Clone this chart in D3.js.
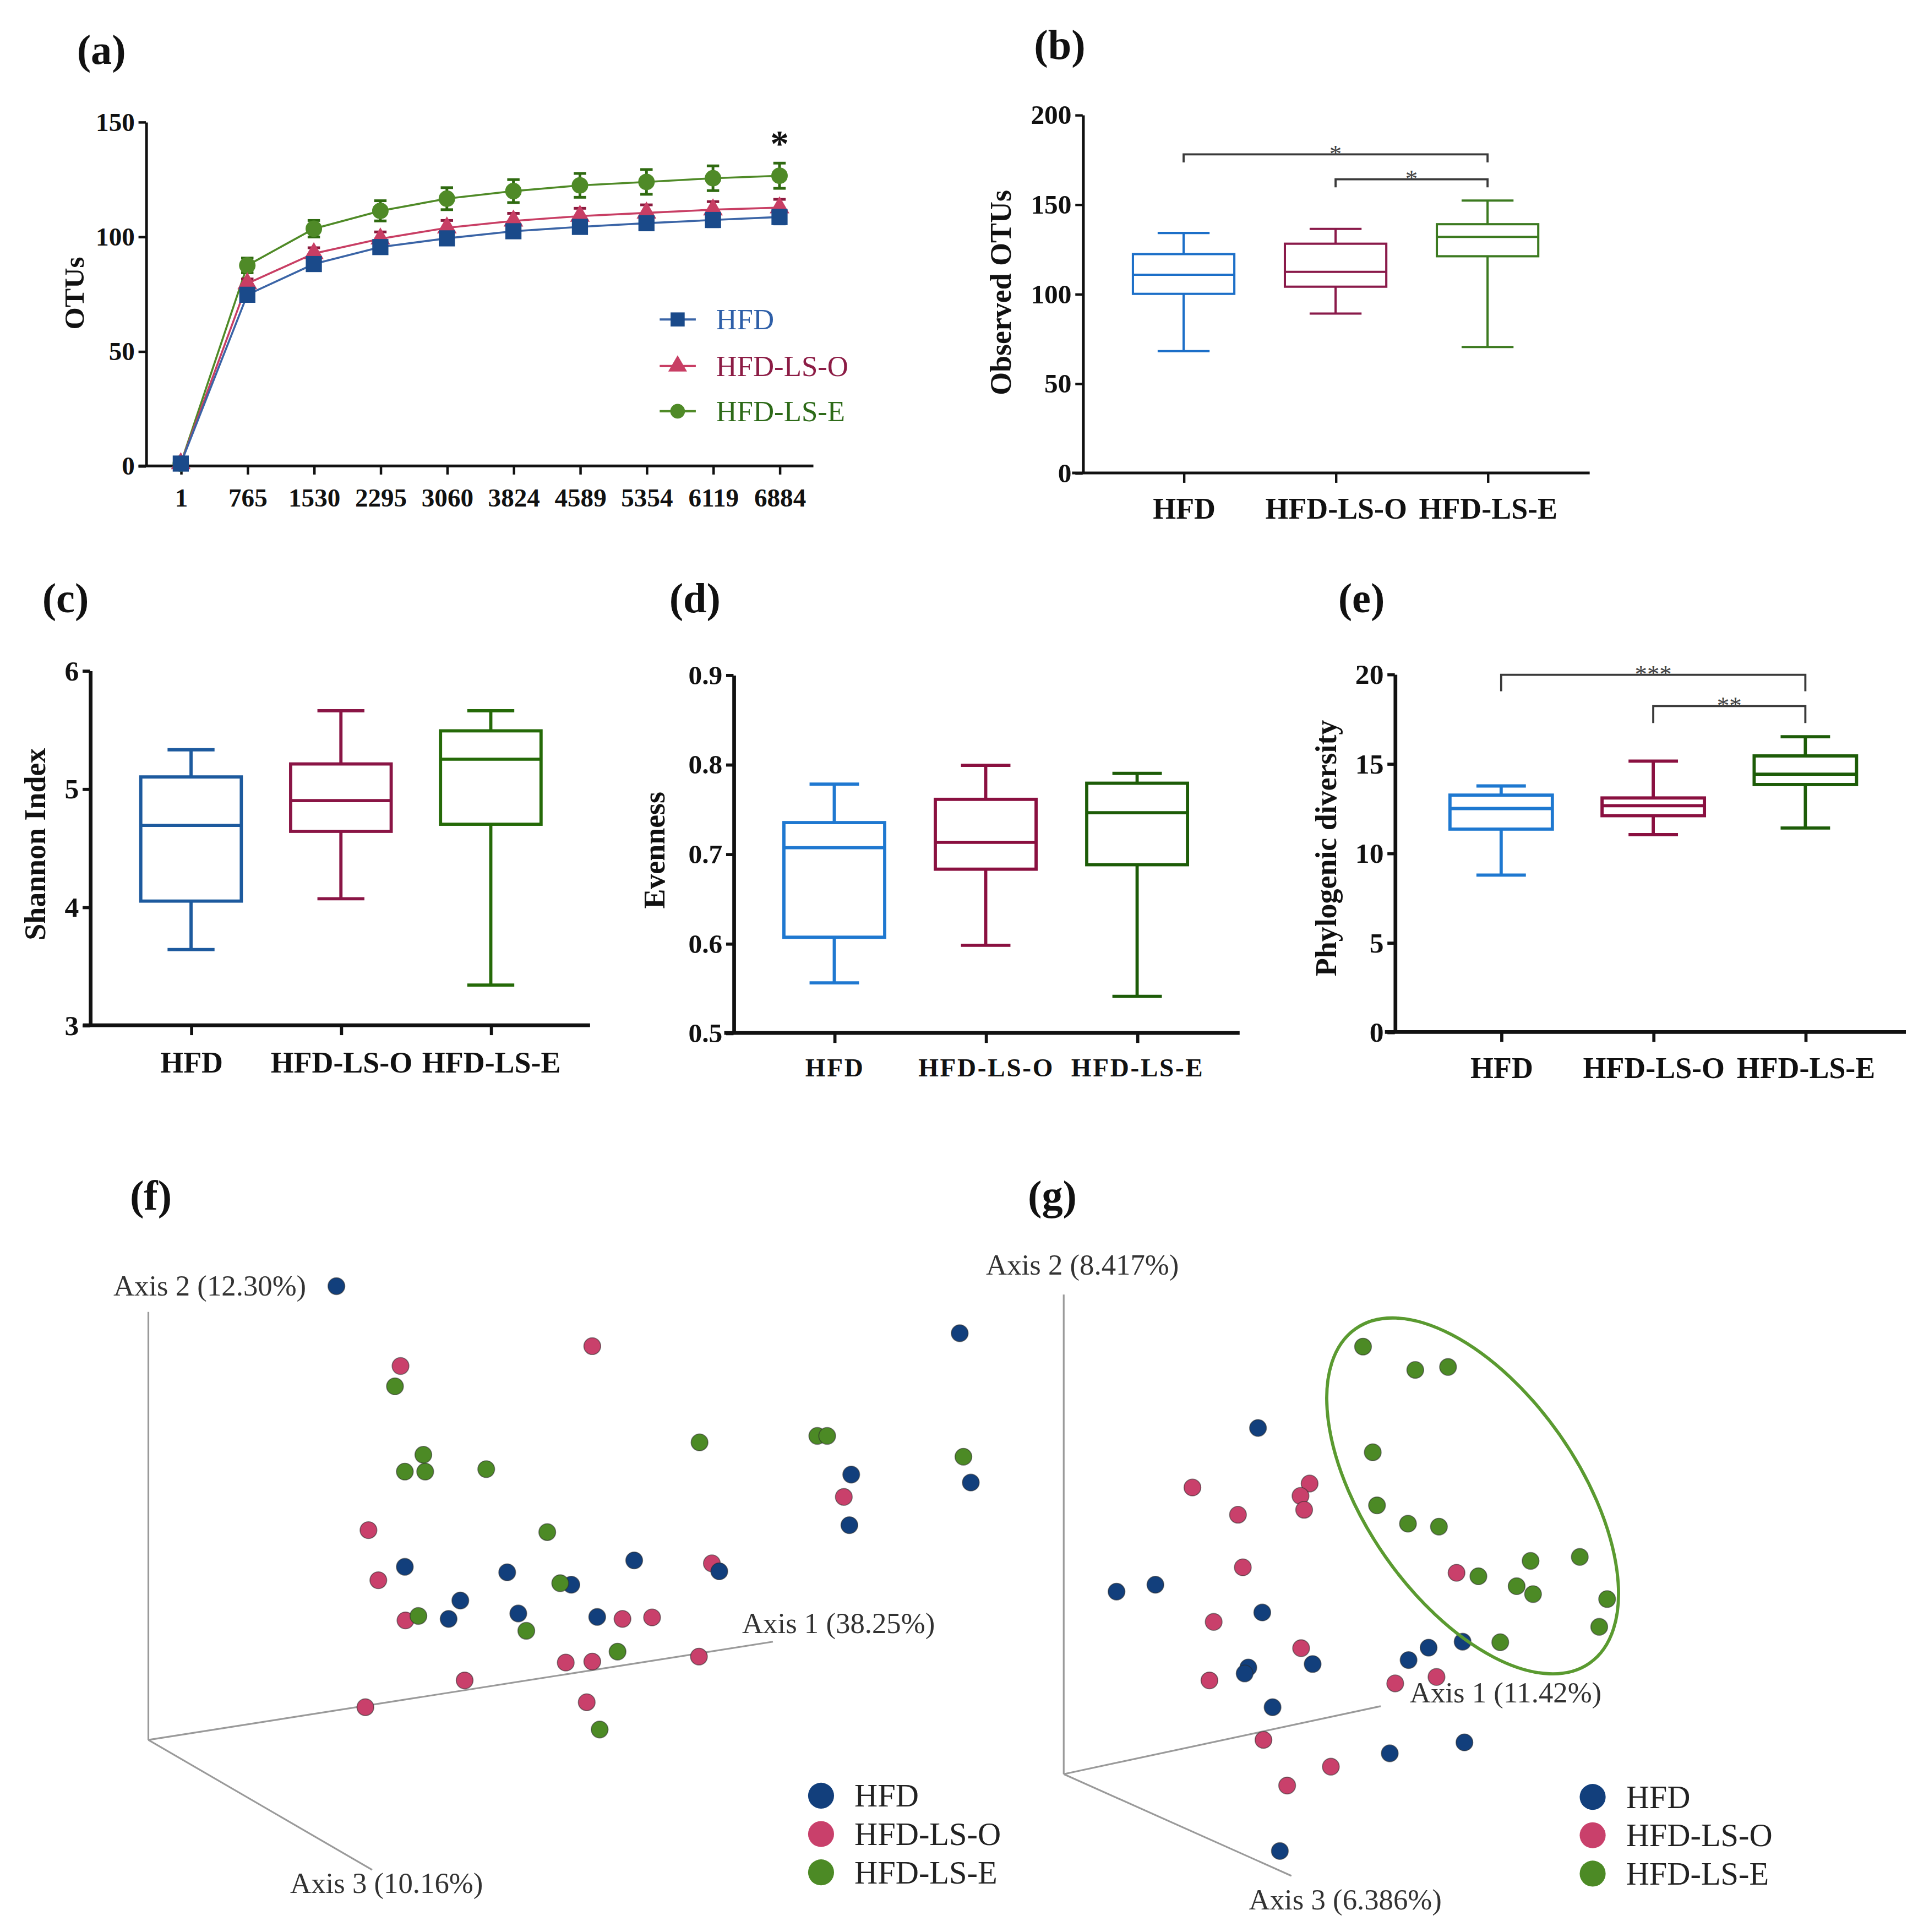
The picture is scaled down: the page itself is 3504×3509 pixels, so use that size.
<!DOCTYPE html>
<html>
<head>
<meta charset="utf-8">
<script src="https://cdn.jsdelivr.net/npm/d3@7"></script>
<style>
  body { margin: 0; background: #fff; }
  svg { display: block; }
</style>
</head>
<body>
<svg id="fig"></svg>
<script>
// ---- data ----
var groups = ["HFD", "HFD-LS-O", "HFD-LS-E"];

// (a) rarefaction curves
var depths = ["1", "765", "1530", "2295", "3060", "3824", "4589", "5354", "6119", "6884"];
var otuHFD = [1, 74.6, 88, 95.4, 99.2, 102.3, 104.2, 105.8, 107.2, 108.5];
var otuLSO = [1, 79.5, 92.6, 99, 103.8, 106.8, 108.9, 110.3, 111.7, 112.6];
var otuLSE = [1, 87.4, 103.4, 111.2, 116.5, 119.8, 122.3, 123.8, 125.4, 126.5];
var errHFD = [0, 1.5, 2, 2.3, 2.5, 2.6, 2.7, 2.8, 2.9, 3];
var errLSO = [0, 2, 2.5, 3, 3.2, 3.3, 3.4, 3.5, 3.5, 3.6];
var errLSE = [0, 3.2, 3.6, 4.4, 4.8, 5, 5.2, 5.4, 5.4, 5.5];

// box plots: [min, q1, median, q3, max] per group
var observedOTUs = [[68, 100, 110.7, 122.2, 134], [89, 104, 112.3, 128, 136.3], [70.3, 121, 131.8, 138.9, 152.1]];
var shannon = [[3.64, 4.05, 4.69, 5.10, 5.33], [4.07, 4.64, 4.90, 5.21, 5.66], [3.34, 4.70, 5.25, 5.49, 5.66]];
var evenness = [[0.556, 0.607, 0.707, 0.735, 0.778], [0.598, 0.683, 0.713, 0.761, 0.799], [0.541, 0.688, 0.746, 0.779, 0.790]];
var phylo = [[8.77, 11.34, 12.49, 13.24, 13.75], [11.03, 12.09, 12.65, 13.08, 15.14], [11.40, 13.83, 14.41, 15.43, 16.5]];

var otuSig = [[0, 2, 177.9, 4.5, "*"], [1, 2, 164, 4.5, "*"]];
var pdSig = [[0, 2, 19.96, 0.92, "***"], [1, 2, 18.22, 0.95, "**"]];

// (f),(g) PCoA, projected 2D positions of the 3D plots
var fHFD = [[457,263],[1468,358],[1292,643],[1486,659],[1289,745],[568,829],[734,840],[940,816],[1078,838],[838,865],[658,897],[752,923],[639,934],[880,930]];
var fLSO = [[561,424],[872,384],[1280,688],[509,755],[525,856],[1066,822],[569,937],[921,934],[969,931],[829,1022],[872,1020],[1045,1010],[665,1058],[504,1112],[863,1102]];
var fLSE = [[552,465],[598,603],[568,637],[601,637],[700,632],[1046,578],[1237,565],[1253,565],[1474,607],[799,759],[820,862],[590,928],[765,958],[913,1000],[884,1157]];
var gHFD = [[460,547],[227,877],[291,863],[467,919],[550,1023],[444,1030],[438,1042],[484,1110],[708,1015],[741,990],[797,978],[677,1203],[800,1181],[496,1400]];
var gLSO = [[352,667],[545,659],[530,684],[536,712],[427,722],[435,828],[787,839],[387,938],[531,991],[380,1056],[686,1062],[754,1049],[469,1176],[580,1230],[508,1268]];
var gLSE = [[633,383],[719,430],[773,424],[649,596],[656,703],[707,740],[758,746],[909,815],[990,807],[823,846],[886,866],[913,882],[1035,892],[1022,948],[859,979]];

var fAxes = { o: [152, 1178], a1: [1165, 980], a2: [152, 315], a3: [515, 1440] };
var gAxes = { o: [140, 1245], a1: [662, 1108], a2: [140, 278], a3: [515, 1450] };
var fLabels = [["Axis 2 (12.30%)", 408, 282, "end"], ["Axis 1 (38.25%)", 1115, 962, "start"], ["Axis 3 (10.16%)", 382, 1487, "start"]];
var gLabels = [["Axis 2 (8.417%)", 12, 238, "start"], ["Axis 1 (11.42%)", 710, 1100, "start"], ["Axis 3 (6.386%)", 445, 1518, "start"]];

var serif = "'Liberation Serif', 'Times New Roman', serif";

var svg = d3.select("#fig")
    .attr("width", 3504)
    .attr("height", 3509)
    .attr("viewBox", "0 0 1560 1562.2");

svg.append("rect").attr("width", 1560).attr("height", 1563).attr("fill", "#fff");

function panelTitle(t, x, y) {
    svg.append("text").text(t)
        .attr("x", x).attr("y", y + 9)
        .attr("text-anchor", "middle")
        .attr("font-family", serif).attr("font-weight", "bold")
        .attr("font-size", 34).attr("fill", "#111");
}

function yLabel(t, x, cy, size) {
    svg.append("text").text(t)
        .attr("transform", "translate(" + x + "," + cy + ") rotate(-90)")
        .attr("text-anchor", "middle").attr("dy", "0.35em")
        .attr("font-family", serif).attr("font-weight", "bold")
        .attr("font-size", size).attr("fill", "#111");
}

// ---- (a) rarefaction ----
(function () {
    var x = d3.scalePoint().domain(depths).range([146.2, 630.4]);
    var y = d3.scaleLinear().domain([0, 150]).range([376.7, 98.5]);
    var g = svg.append("g");

    var ya = g.append("g").attr("transform", "translate(118,0)")
        .call(d3.axisLeft(y).tickValues([0, 50, 100, 150]).tickSize(6).tickSizeOuter(0).tickPadding(3));
    ya.select(".domain").attr("stroke-width", 2.2).attr("stroke", "#111");
    ya.selectAll(".tick line").attr("stroke-width", 2).attr("stroke", "#111");
    ya.selectAll("text").attr("font-family", serif).attr("font-weight", "bold")
        .attr("font-size", 21).attr("fill", "#111");

    g.append("line").attr("x1", 112).attr("x2", 657.8).attr("y1", y(0)).attr("y2", y(0))
        .attr("stroke", "#111").attr("stroke-width", 2.2);
    var xa = g.append("g").attr("transform", "translate(0," + y(0) + ")")
        .call(d3.axisBottom(x).tickSize(7).tickPadding(11));
    xa.select(".domain").remove();
    xa.selectAll(".tick line").attr("stroke-width", 2).attr("stroke", "#111");
    xa.selectAll("text").attr("font-family", serif).attr("font-weight", "bold")
        .attr("font-size", 21).attr("fill", "#111");

    var series = [
        { v: otuLSE, e: errLSE, line: "#4f8a27", bar: "#2f6a10", fill: "#4f8a27", sym: d3.symbolCircle, size: 140 },
        { v: otuLSO, e: errLSO, line: "#c83e64", bar: "#8b1a3e", fill: "#c83e64", sym: d3.symbolTriangle, size: 110 },
        { v: otuHFD, e: errHFD, line: "#3a64a6", bar: "#1a4a8a", fill: "#1a4a8a", sym: d3.symbolSquare, size: 170 }
    ];

    var line = d3.line().x(function (d, i) { return x(depths[i]); }).y(function (d) { return y(d); });

    series.forEach(function (s) {
        g.append("path").attr("d", line(s.v)).attr("fill", "none")
            .attr("stroke", s.line).attr("stroke-width", 1.6);
    });
    series.forEach(function (s) {
        var eb = g.append("g").attr("stroke", s.bar).attr("stroke-width", 2.2);
        s.v.forEach(function (v, i) {
            if (!s.e[i]) return;
            var cx = x(depths[i]);
            eb.append("line").attr("x1", cx).attr("x2", cx).attr("y1", y(v - s.e[i])).attr("y2", y(v + s.e[i]));
            eb.append("line").attr("x1", cx - 5).attr("x2", cx + 5).attr("y1", y(v + s.e[i])).attr("y2", y(v + s.e[i]));
            eb.append("line").attr("x1", cx - 5).attr("x2", cx + 5).attr("y1", y(v - s.e[i])).attr("y2", y(v - s.e[i]));
        });
        g.selectAll(null).data(s.v).join("path")
            .attr("d", d3.symbol().type(s.sym).size(s.size))
            .attr("transform", function (d, i) { return "translate(" + x(depths[i]) + "," + y(d) + ")"; })
            .attr("fill", s.fill);
    });

    g.append("text").text("*").attr("x", x("6884")).attr("y", 126)
        .attr("text-anchor", "middle").attr("font-family", serif).attr("font-weight", "bold")
        .attr("font-size", 30).attr("fill", "#111");

    // legend
    var leg = [
        { t: "HFD", c: "#2e5fa8", lc: "#3a64a6", f: "#1a4a8a", sym: d3.symbolSquare, size: 130, cy: 258.3 },
        { t: "HFD-LS-O", c: "#8c1c45", lc: "#c83e64", f: "#c83e64", sym: d3.symbolTriangle, size: 100, cy: 296 },
        { t: "HFD-LS-E", c: "#2d6a18", lc: "#4f8a27", f: "#4f8a27", sym: d3.symbolCircle, size: 110, cy: 332.5 }
    ];
    leg.forEach(function (l) {
        g.append("line").attr("x1", 533.5).attr("x2", 562.7).attr("y1", l.cy).attr("y2", l.cy)
            .attr("stroke", l.lc).attr("stroke-width", 1.8);
        g.append("path").attr("d", d3.symbol().type(l.sym).size(l.size)())
            .attr("transform", "translate(548," + l.cy + ")").attr("fill", l.f);
        g.append("text").text(l.t).attr("x", 579).attr("y", l.cy).attr("dy", "0.34em")
            .attr("font-family", serif).attr("font-size", 23.5).attr("fill", l.c);
    });

    panelTitle("(a)", 82, 42.8);
    yLabel("OTUs", 59.4, 237, 23);
})();

// ---- box plot panels ----
function boxPanel(p) {
    var g = svg.append("g");
    var y = d3.scaleLinear().domain(p.domain).range([p.yBot, p.yTop]);
    var x = d3.scalePoint().domain(groups).range(p.centers);

    var ya = g.append("g").attr("transform", "translate(" + p.axisX + ",0)")
        .call(d3.axisLeft(y).tickValues(p.ticks).tickSize(6).tickSizeOuter(0).tickPadding(3)
            .tickFormat(p.fmt));
    ya.select(".domain").attr("stroke-width", p.axisW).attr("stroke", "#111");
    ya.selectAll(".tick line").attr("stroke-width", p.axisW * 0.85).attr("stroke", "#111");
    ya.selectAll("text").attr("font-family", serif).attr("font-weight", "bold")
        .attr("font-size", p.tickFont).attr("fill", "#111");

    g.append("line").attr("x1", p.xFrom).attr("x2", p.xTo).attr("y1", p.yBot).attr("y2", p.yBot)
        .attr("stroke", "#111").attr("stroke-width", p.axisW);
    var xa = g.append("g").attr("transform", "translate(0," + p.yBot + ")")
        .call(d3.axisBottom(x).tickSize(8).tickPadding(p.catPad));
    xa.select(".domain").remove();
    xa.selectAll(".tick line").attr("stroke-width", p.axisW * 0.85).attr("stroke", "#111");
    xa.selectAll("text").attr("font-family", serif).attr("font-weight", "bold")
        .attr("font-size", p.catFont).attr("letter-spacing", p.catSpacing || 0).attr("fill", "#111");

    var hw = p.boxW / 2, cw = p.capW / 2;
    var box = g.selectAll("g.box").data(p.data).join("g")
        .attr("class", "box")
        .attr("stroke", function (d, i) { return p.colors[i]; })
        .attr("stroke-width", p.boxStroke)
        .attr("fill", "none");
    box.each(function (d, i) {
        var b = d3.select(this), cx = x(groups[i]);
        b.append("line").attr("x1", cx).attr("x2", cx).attr("y1", y(d[0])).attr("y2", y(d[1]));
        b.append("line").attr("x1", cx).attr("x2", cx).attr("y1", y(d[3])).attr("y2", y(d[4]));
        b.append("line").attr("x1", cx - cw).attr("x2", cx + cw).attr("y1", y(d[0])).attr("y2", y(d[0]));
        b.append("line").attr("x1", cx - cw).attr("x2", cx + cw).attr("y1", y(d[4])).attr("y2", y(d[4]));
        b.append("rect").attr("x", cx - hw).attr("width", p.boxW)
            .attr("y", y(d[3])).attr("height", y(d[1]) - y(d[3]));
        b.append("line").attr("x1", cx - hw).attr("x2", cx + hw).attr("y1", y(d[2])).attr("y2", y(d[2]));
    });

    (p.sig || []).forEach(function (s) {
        var x1 = x(groups[s[0]]), x2 = x(groups[s[1]]), yy = y(s[2]), yd = y(s[2] - s[3]);
        g.append("path").attr("d", "M" + x1 + "," + yd + "V" + yy + "H" + x2 + "V" + yd)
            .attr("fill", "none").attr("stroke", "#3a3a3a").attr("stroke-width", 1.7);
        g.append("text").text(s[4]).attr("x", (x1 + x2) / 2).attr("y", yy + 6)
            .attr("text-anchor", "middle").attr("font-family", serif)
            .attr("font-size", 20).attr("fill", "#444");
    });

    panelTitle(p.title, p.titleX, p.titleY);
    yLabel(p.ylabel, p.ylabelX, (p.yTop + p.yBot) / 2 + p.ylabelShift, p.ylabelFont);
}

boxPanel({
    data: observedOTUs, domain: [0, 200], ticks: [0, 50, 100, 150, 200], fmt: d3.format("d"),
    axisX: 875.6, yTop: 92.8, yBot: 382.4, xFrom: 867, xTo: 1285.6, centers: [957.2, 1203],
    boxW: 82, capW: 42, boxStroke: 1.8, axisW: 2.3, tickFont: 22, catFont: 24, catPad: 12,
    colors: ["#1c6fc8", "#8a1a4a", "#3c7a20"], sig: otuSig,
    title: "(b)", titleX: 857, titleY: 38.5,
    ylabel: "Observed OTUs", ylabelX: 809, ylabelShift: -1, ylabelFont: 24
});

boxPanel({
    data: shannon, domain: [3, 6], ticks: [3, 4, 5, 6], fmt: d3.format("d"),
    axisX: 72.8, yTop: 542.2, yBot: 829, xFrom: 67, xTo: 477.2, centers: [154.5, 396.9],
    boxW: 81.3, capW: 38, boxStroke: 2.6, axisW: 3, tickFont: 23, catFont: 24, catPad: 13,
    colors: ["#1d5a9e", "#8a1545", "#256a08"],
    title: "(c)", titleX: 53, titleY: 486,
    ylabel: "Shannon Index", ylabelX: 28, ylabelShift: -3, ylabelFont: 24
});

boxPanel({
    data: evenness, domain: [0.5, 0.9], ticks: [0.5, 0.6, 0.7, 0.8, 0.9], fmt: d3.format(".1f"),
    axisX: 593.2, yTop: 545.7, yBot: 835.3, xFrom: 585.7, xTo: 1002.5, centers: [674.7, 919.6],
    boxW: 81.5, capW: 40, boxStroke: 2.6, axisW: 3, tickFont: 22, catFont: 21, catPad: 12, catSpacing: 1.2,
    colors: ["#1f78d0", "#8a1040", "#1d5c08"],
    title: "(d)", titleX: 562, titleY: 486,
    ylabel: "Evenness", ylabelX: 529, ylabelShift: -3, ylabelFont: 24
});

boxPanel({
    data: phylo, domain: [0, 20], ticks: [0, 5, 10, 15, 20], fmt: d3.format("d"),
    axisX: 1128, yTop: 545.1, yBot: 834.5, xFrom: 1120, xTo: 1541.3, centers: [1214, 1460],
    boxW: 82.8, capW: 40, boxStroke: 2.6, axisW: 3, tickFont: 23, catFont: 24, catPad: 12,
    colors: ["#1e78d0", "#8a1040", "#1d5c08"], sig: pdSig,
    title: "(e)", titleX: 1101, titleY: 486,
    ylabel: "Phylogenic diversity", ylabelX: 1072, ylabelShift: -4, ylabelFont: 24
});

// ---- PCoA panels ----
var pcoaColors = { hfd: "#123f7c", lso: "#c9406b", lse: "#4c8a25" };

function pcoaPanel(p) {
    var g = svg.append("g");
    var x = d3.scaleLinear().domain([0, 1568]).range(p.xr);
    var y = d3.scaleLinear().domain([0, 1568]).range(p.yr);
    var o = p.axes.o;
    ["a1", "a2", "a3"].forEach(function (k) {
        g.append("line")
            .attr("x1", x(o[0])).attr("y1", y(o[1]))
            .attr("x2", x(p.axes[k][0])).attr("y2", y(p.axes[k][1]))
            .attr("stroke", "#9a9a9a").attr("stroke-width", 1.4);
    });
    p.labels.forEach(function (l) {
        g.append("text").text(l[0]).attr("x", x(l[1])).attr("y", y(l[2]))
            .attr("text-anchor", l[3]).attr("font-family", serif)
            .attr("font-size", 23.5).attr("fill", "#333");
    });

    [[p.lso, pcoaColors.lso], [p.hfd, pcoaColors.hfd], [p.lse, pcoaColors.lse]].forEach(function (s) {
        g.selectAll(null).data(s[0]).join("circle")
            .attr("cx", function (d) { return x(d[0]); })
            .attr("cy", function (d) { return y(d[1]); })
            .attr("r", 6.8)
            .attr("fill", s[1])
            .attr("stroke", "#2a2a2a").attr("stroke-opacity", 0.55).attr("stroke-width", 0.8);
    });

    if (p.ellipse) {
        var e = p.ellipse;
        g.append("ellipse")
            .attr("transform", "translate(" + x(e[0]) + "," + y(e[1]) + ") rotate(" + e[4] + ")")
            .attr("rx", e[2]).attr("ry", e[3])
            .attr("fill", "none").attr("stroke", "#5a9a30").attr("stroke-width", 2.6);
    }

    var leg = [["HFD", pcoaColors.hfd], ["HFD-LS-O", pcoaColors.lso], ["HFD-LS-E", pcoaColors.lse]];
    leg.forEach(function (l, i) {
        var cy = p.legY[i];
        g.append("circle").attr("cx", p.legX).attr("cy", cy).attr("r", 10.5).attr("fill", l[1]);
        g.append("text").text(l[0]).attr("x", p.legX + 27).attr("y", cy).attr("dy", "0.34em")
            .attr("font-family", serif).attr("font-size", 26).attr("fill", "#222");
    });
}

pcoaPanel({
    hfd: fHFD, lso: fLSO, lse: fLSE, axes: fAxes, labels: fLabels,
    xr: [44.2, 826.0], yr: [934.5, 1563.3],
    legX: 664, legY: [1452, 1483, 1514]
});
pcoaPanel({
    hfd: gHFD, lso: gLSO, lse: gLSE, axes: gAxes, labels: gLabels,
    xr: [791.5, 1561.4], yr: [935.3, 1564.1],
    ellipse: [813.5, 684, 165, 86, 55],
    legX: 1288, legY: [1453, 1484, 1515]
});

panelTitle("(f)", 122, 969);
panelTitle("(g)", 851, 969);
</script>
</body>
</html>
